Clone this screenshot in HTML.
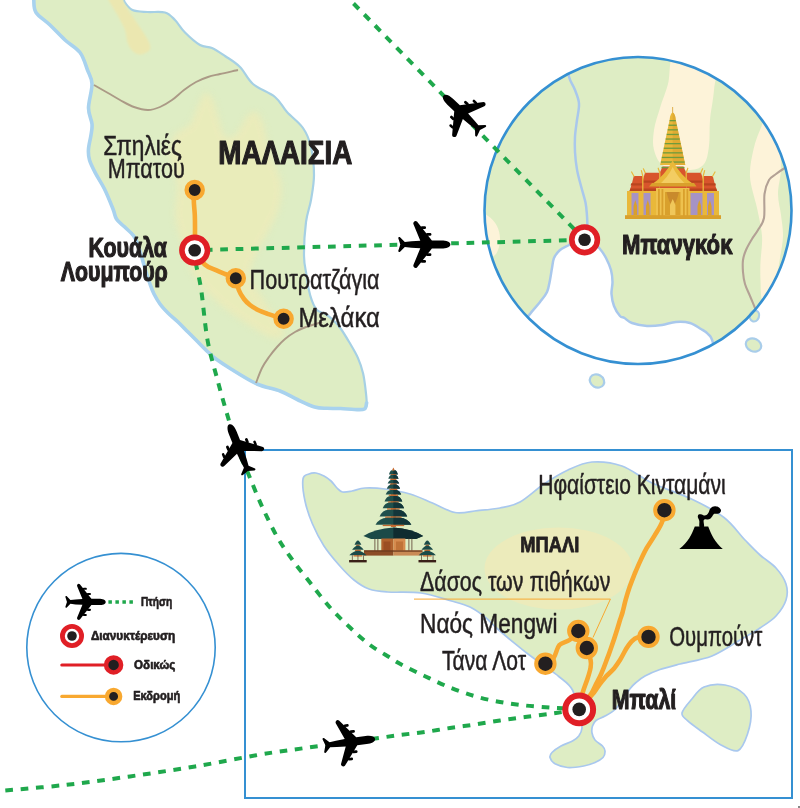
<!DOCTYPE html>
<html><head><meta charset="utf-8"><title>Map</title>
<style>
html,body{margin:0;padding:0;background:#fff;}
body{width:800px;height:808px;overflow:hidden;}
svg{display:block;}
text{font-family:"Liberation Sans",sans-serif;fill:#231f20;}
.b{font-weight:bold;}
</style></head><body>
<svg width="800" height="808" viewBox="0 0 800 808">
<defs>
<g id="plane">
<path d="M26,0 C26,-2.8 22,-4.1 17,-4.1 L7.5,-4.1 L-7.4,-22.9 Q-9.2,-24.2 -10.6,-22.4 Q-11.4,-21.3 -10.9,-20.2 L-4.1,-3.8 L-13,-3.2 L-19.6,-2.5 L-24.6,-7.5 Q-26.3,-7.9 -26.1,-6.2 L-24.1,0 L-26.1,6.2 Q-26.3,7.9 -24.6,7.5 L-19.6,2.5 L-13,3.2 L-4.1,3.8 L-10.9,20.2 Q-11.4,21.3 -10.6,22.4 Q-9.2,24.2 -7.4,22.9 L7.5,4.1 L17,4.1 C22,4.1 26,2.8 26,0Z"/>
<rect x="1.6" y="-11.6" width="5.4" height="2.8" rx="1.3"/>
<rect x="-3.6" y="-18.2" width="5.2" height="2.6" rx="1.2"/>
<rect x="1.6" y="8.8" width="5.4" height="2.8" rx="1.3"/>
<rect x="-3.6" y="15.6" width="5.2" height="2.6" rx="1.2"/>
</g>
<g id="night"><circle r="12.8" fill="#fff" stroke="#e01f26" stroke-width="5.6"/><circle r="6.3" fill="#231f20"/></g>
<g id="stop"><circle r="8.1" fill="#231f20" stroke="#f8a830" stroke-width="4.3"/></g>
<g id="stopb"><circle r="9.2" fill="#231f20" stroke="#f8a830" stroke-width="4"/></g>
<clipPath id="bkk"><circle cx="638" cy="210.5" r="153.5"/></clipPath>
<clipPath id="mal"><path d="M33.8,-6.0 C48.5,-7.0 107.5,-7.2 122.5,-6.0 C137.5,-4.8 122.3,-1.7 124.0,1.0 C125.7,3.7 128.6,8.2 132.5,10.0 C136.4,11.8 142.1,11.6 147.5,12.0 C152.9,12.4 160.4,11.2 165.0,12.5 C169.6,13.8 171.7,16.7 175.0,20.0 C178.3,23.3 180.8,28.3 185.0,32.5 C189.2,36.7 195.5,42.4 200.0,45.0 C204.5,47.6 207.8,46.2 212.0,48.0 C216.2,49.8 220.3,52.8 225.0,56.0 C229.7,59.2 235.3,62.3 240.0,67.0 C244.7,71.7 247.2,79.0 253.0,84.0 C258.8,89.0 269.3,92.3 275.0,97.0 C280.7,101.7 282.3,106.8 287.0,112.0 C291.7,117.2 299.0,122.2 303.0,128.0 C307.0,133.8 309.2,139.2 311.0,147.0 C312.8,154.8 314.0,166.2 314.0,175.0 C314.0,183.8 312.3,192.2 311.0,200.0 C309.7,207.8 307.2,212.7 306.0,222.0 C304.8,231.3 303.9,247.2 304.0,256.0 C304.1,264.8 305.7,269.6 306.5,275.0 C307.3,280.4 307.7,284.4 308.6,288.7 C309.5,293.0 310.6,297.2 312.0,300.8 C313.4,304.4 315.0,308.1 317.2,310.3 C319.4,312.5 322.4,312.2 325.0,313.8 C327.6,315.4 330.4,317.6 333.0,320.0 C335.6,322.4 337.9,324.8 340.6,328.5 C343.3,332.2 346.4,337.4 349.3,342.3 C352.2,347.2 355.6,352.7 357.9,357.9 C360.2,363.1 361.8,368.0 363.1,373.5 C364.4,379.0 365.1,385.9 365.7,390.8 C366.3,395.7 366.8,400.0 366.6,403.0 C366.4,406.0 366.5,407.9 364.5,409.0 C362.5,410.1 358.5,409.6 354.5,409.5 C350.5,409.4 345.2,408.7 340.6,408.5 C336.0,408.3 331.3,408.6 327.0,408.3 C322.7,408.1 319.6,408.5 314.6,407.0 C309.7,405.5 303.1,402.2 297.3,399.5 C291.5,396.8 286.7,393.6 280.0,391.0 C273.3,388.4 265.2,387.7 257.0,384.0 C248.8,380.3 237.8,373.2 231.0,369.0 C224.2,364.8 219.8,361.8 216.0,359.0 C212.2,356.2 211.0,354.8 208.0,352.0 C205.0,349.2 201.3,345.3 198.0,342.0 C194.7,338.7 191.3,335.3 188.0,332.0 C184.7,328.7 181.3,325.2 178.0,322.0 C174.7,318.8 171.0,316.0 168.0,313.0 C165.0,310.0 162.3,307.2 160.0,304.0 C157.7,300.8 155.7,297.3 154.0,294.0 C152.3,290.7 151.3,287.7 150.0,284.0 C148.7,280.3 147.3,276.3 146.0,272.0 C144.7,267.7 143.3,262.5 142.0,258.0 C140.7,253.5 139.4,248.7 138.0,245.0 C136.6,241.3 135.8,238.7 133.5,235.7 C131.2,232.7 127.3,229.6 124.5,226.8 C121.7,224.0 118.4,222.0 116.5,219.0 C114.6,216.0 115.0,214.0 113.0,209.0 C111.0,204.0 107.4,194.9 104.5,189.0 C101.6,183.1 98.1,178.2 95.6,173.4 C93.1,168.6 90.7,164.1 89.5,160.0 C88.3,155.9 88.2,153.2 88.5,149.0 C88.8,144.8 90.4,139.2 91.0,135.0 C91.6,130.8 92.4,128.5 92.0,124.0 C91.6,119.5 88.5,114.7 88.5,108.0 C88.5,101.3 92.2,90.3 92.0,84.0 C91.8,77.7 89.5,75.2 87.5,70.0 C85.5,64.8 83.8,57.5 80.0,52.5 C76.2,47.5 70.0,44.6 65.0,40.0 C60.0,35.4 54.8,29.6 50.0,25.0 C45.2,20.4 38.7,16.7 36.0,12.5 C33.3,8.3 34.1,3.1 33.8,0.0 C33.4,-3.1 19.0,-5.0 33.8,-6.0Z"/></clipPath>
<clipPath id="balic"><path d="M303.0,479.0 C303.7,474.5 306.8,475.0 309.0,474.0 C311.2,473.0 313.5,472.7 316.0,473.0 C318.5,473.3 321.5,474.7 324.0,476.0 C326.5,477.3 328.8,479.0 331.0,481.0 C333.2,483.0 335.1,486.2 337.0,488.0 C338.9,489.8 340.0,491.5 342.5,492.0 C345.0,492.5 348.2,491.7 352.0,491.0 C355.8,490.3 359.5,488.3 365.0,488.0 C370.5,487.7 377.5,488.0 385.0,489.0 C392.5,490.0 402.1,491.7 410.0,494.0 C417.9,496.3 425.0,499.9 432.5,503.0 C440.0,506.1 447.5,511.2 455.0,512.5 C462.5,513.8 470.0,511.4 477.5,510.6 C485.0,509.9 492.9,509.4 500.0,508.0 C507.1,506.6 512.7,506.0 520.0,502.0 C527.3,498.0 536.0,489.3 544.0,484.0 C552.0,478.7 560.0,473.7 568.0,470.0 C576.0,466.3 583.0,462.7 592.0,462.0 C601.0,461.3 612.0,462.5 622.0,466.0 C632.0,469.5 640.2,477.4 652.0,483.0 C663.8,488.6 680.5,493.8 692.5,499.5 C704.5,505.2 715.2,510.8 724.0,517.5 C732.8,524.2 739.0,533.8 745.0,540.0 C751.0,546.2 754.8,550.3 760.0,555.0 C765.2,559.7 771.7,563.2 776.0,568.0 C780.3,572.8 784.3,578.7 786.0,584.0 C787.7,589.3 787.7,594.7 786.0,600.0 C784.3,605.3 780.3,611.3 776.0,616.0 C771.7,620.7 766.0,624.0 760.0,628.0 C754.0,632.0 748.0,635.3 740.0,640.0 C732.0,644.7 722.0,652.0 712.0,656.0 C702.0,660.0 688.7,661.8 680.0,664.0 C671.3,666.2 665.8,667.5 660.0,669.5 C654.2,671.5 649.0,673.8 645.0,676.0 C641.0,678.2 638.5,680.4 636.0,682.5 C633.5,684.6 632.3,685.8 630.0,688.8 C627.7,691.7 624.5,696.5 622.0,700.0 C619.5,703.5 617.8,706.8 615.0,709.5 C612.2,712.2 608.2,714.2 605.0,716.0 C601.8,717.8 598.1,718.8 596.0,720.5 C593.9,722.2 593.2,723.9 592.5,726.0 C591.8,728.1 591.6,730.7 592.0,733.0 C592.4,735.3 593.2,737.8 595.0,740.0 C596.8,742.2 600.8,744.2 602.5,746.0 C604.2,747.8 604.9,749.1 605.0,751.0 C605.1,752.9 604.7,755.6 603.0,757.5 C601.3,759.4 598.2,761.1 595.0,762.5 C591.8,763.9 588.3,765.2 583.8,766.0 C579.2,766.8 572.3,767.9 567.5,767.5 C562.7,767.1 557.9,765.4 555.0,763.8 C552.1,762.1 550.5,759.4 550.0,757.5 C549.5,755.6 550.2,754.4 552.0,752.5 C553.8,750.6 557.6,747.9 561.0,746.0 C564.4,744.1 569.5,742.7 572.5,741.0 C575.5,739.3 577.2,738.2 578.8,736.0 C580.3,733.8 581.8,731.3 582.0,728.0 C582.2,724.7 581.6,722.3 580.0,716.0 C578.4,709.7 576.0,696.6 572.5,690.0 C569.0,683.4 563.7,680.7 558.8,676.5 C553.9,672.3 548.1,668.8 543.0,665.0 C537.9,661.2 532.7,657.5 528.0,654.0 C523.3,650.5 520.2,648.0 515.0,643.7 C509.8,639.4 501.6,632.5 496.6,628.0 C491.6,623.5 489.4,620.5 485.0,617.0 C480.6,613.5 475.6,609.7 470.0,607.0 C464.4,604.3 459.7,603.3 451.5,601.0 C443.3,598.7 431.7,594.5 421.0,593.0 C410.3,591.5 396.2,592.7 387.5,592.0 C378.8,591.3 374.6,591.0 369.0,589.0 C363.4,587.0 359.0,584.0 354.0,580.0 C349.0,576.0 344.0,570.7 339.0,565.0 C334.0,559.3 328.4,552.8 324.0,546.0 C319.6,539.2 315.7,531.5 312.5,524.0 C309.3,516.5 306.6,508.5 305.0,501.0 C303.4,493.5 302.3,483.5 303.0,479.0Z"/></clipPath>
<filter id="bl1"><feGaussianBlur stdDeviation="1.2"/></filter>
<filter id="bl3"><feGaussianBlur stdDeviation="3"/></filter>
<filter id="bl5"><feGaussianBlur stdDeviation="5"/></filter>
</defs>
<rect width="800" height="808" fill="#fff"/>

<g id="malaysia">
<path d="M33.8,-6.0 C48.5,-7.0 107.5,-7.2 122.5,-6.0 C137.5,-4.8 122.3,-1.7 124.0,1.0 C125.7,3.7 128.6,8.2 132.5,10.0 C136.4,11.8 142.1,11.6 147.5,12.0 C152.9,12.4 160.4,11.2 165.0,12.5 C169.6,13.8 171.7,16.7 175.0,20.0 C178.3,23.3 180.8,28.3 185.0,32.5 C189.2,36.7 195.5,42.4 200.0,45.0 C204.5,47.6 207.8,46.2 212.0,48.0 C216.2,49.8 220.3,52.8 225.0,56.0 C229.7,59.2 235.3,62.3 240.0,67.0 C244.7,71.7 247.2,79.0 253.0,84.0 C258.8,89.0 269.3,92.3 275.0,97.0 C280.7,101.7 282.3,106.8 287.0,112.0 C291.7,117.2 299.0,122.2 303.0,128.0 C307.0,133.8 309.2,139.2 311.0,147.0 C312.8,154.8 314.0,166.2 314.0,175.0 C314.0,183.8 312.3,192.2 311.0,200.0 C309.7,207.8 307.2,212.7 306.0,222.0 C304.8,231.3 303.9,247.2 304.0,256.0 C304.1,264.8 305.7,269.6 306.5,275.0 C307.3,280.4 307.7,284.4 308.6,288.7 C309.5,293.0 310.6,297.2 312.0,300.8 C313.4,304.4 315.0,308.1 317.2,310.3 C319.4,312.5 322.4,312.2 325.0,313.8 C327.6,315.4 330.4,317.6 333.0,320.0 C335.6,322.4 337.9,324.8 340.6,328.5 C343.3,332.2 346.4,337.4 349.3,342.3 C352.2,347.2 355.6,352.7 357.9,357.9 C360.2,363.1 361.8,368.0 363.1,373.5 C364.4,379.0 365.1,385.9 365.7,390.8 C366.3,395.7 366.8,400.0 366.6,403.0 C366.4,406.0 366.5,407.9 364.5,409.0 C362.5,410.1 358.5,409.6 354.5,409.5 C350.5,409.4 345.2,408.7 340.6,408.5 C336.0,408.3 331.3,408.6 327.0,408.3 C322.7,408.1 319.6,408.5 314.6,407.0 C309.7,405.5 303.1,402.2 297.3,399.5 C291.5,396.8 286.7,393.6 280.0,391.0 C273.3,388.4 265.2,387.7 257.0,384.0 C248.8,380.3 237.8,373.2 231.0,369.0 C224.2,364.8 219.8,361.8 216.0,359.0 C212.2,356.2 211.0,354.8 208.0,352.0 C205.0,349.2 201.3,345.3 198.0,342.0 C194.7,338.7 191.3,335.3 188.0,332.0 C184.7,328.7 181.3,325.2 178.0,322.0 C174.7,318.8 171.0,316.0 168.0,313.0 C165.0,310.0 162.3,307.2 160.0,304.0 C157.7,300.8 155.7,297.3 154.0,294.0 C152.3,290.7 151.3,287.7 150.0,284.0 C148.7,280.3 147.3,276.3 146.0,272.0 C144.7,267.7 143.3,262.5 142.0,258.0 C140.7,253.5 139.4,248.7 138.0,245.0 C136.6,241.3 135.8,238.7 133.5,235.7 C131.2,232.7 127.3,229.6 124.5,226.8 C121.7,224.0 118.4,222.0 116.5,219.0 C114.6,216.0 115.0,214.0 113.0,209.0 C111.0,204.0 107.4,194.9 104.5,189.0 C101.6,183.1 98.1,178.2 95.6,173.4 C93.1,168.6 90.7,164.1 89.5,160.0 C88.3,155.9 88.2,153.2 88.5,149.0 C88.8,144.8 90.4,139.2 91.0,135.0 C91.6,130.8 92.4,128.5 92.0,124.0 C91.6,119.5 88.5,114.7 88.5,108.0 C88.5,101.3 92.2,90.3 92.0,84.0 C91.8,77.7 89.5,75.2 87.5,70.0 C85.5,64.8 83.8,57.5 80.0,52.5 C76.2,47.5 70.0,44.6 65.0,40.0 C60.0,35.4 54.8,29.6 50.0,25.0 C45.2,20.4 38.7,16.7 36.0,12.5 C33.3,8.3 34.1,3.1 33.8,0.0 C33.4,-3.1 19.0,-5.0 33.8,-6.0Z" fill="#deedc4" stroke="#a6d0e4" stroke-width="2.2" stroke-linejoin="round"/>
<path d="M366.6,403.0 C366.2,404.0 366.5,407.9 364.5,409.0 C362.5,410.1 358.5,409.6 354.5,409.5 C350.5,409.4 345.2,408.7 340.6,408.5 C336.0,408.3 331.3,408.6 327.0,408.3 C322.7,408.1 319.6,408.5 314.6,407.0 C309.7,405.5 303.1,402.2 297.3,399.5 C291.5,396.8 286.7,393.6 280.0,391.0 C273.3,388.4 265.2,387.7 257.0,384.0 C248.8,380.3 237.8,373.2 231.0,369.0 C224.2,364.8 219.8,361.8 216.0,359.0 C212.2,356.2 211.0,354.8 208.0,352.0 C205.0,349.2 201.3,345.3 198.0,342.0 C194.7,338.7 191.3,335.3 188.0,332.0 C184.7,328.7 181.3,325.2 178.0,322.0 C174.7,318.8 171.0,316.0 168.0,313.0 C165.0,310.0 162.3,307.2 160.0,304.0 C157.7,300.8 155.7,297.3 154.0,294.0 C152.3,290.7 151.3,287.7 150.0,284.0 C148.7,280.3 147.3,276.3 146.0,272.0 C144.7,267.7 143.3,262.5 142.0,258.0 C140.7,253.5 139.4,248.7 138.0,245.0 C136.6,241.3 135.8,238.7 133.5,235.7 C131.2,232.7 127.3,229.6 124.5,226.8 C121.7,224.0 118.4,222.0 116.5,219.0 C114.6,216.0 115.0,214.0 113.0,209.0 C111.0,204.0 107.4,194.9 104.5,189.0 C101.6,183.1 98.1,178.2 95.6,173.4 C93.1,168.6 90.7,164.1 89.5,160.0 C88.3,155.9 88.2,153.2 88.5,149.0 C88.8,144.8 90.4,139.2 91.0,135.0 C91.6,130.8 92.4,128.5 92.0,124.0 C91.6,119.5 88.5,114.7 88.5,108.0 C88.5,101.3 92.2,90.3 92.0,84.0 C91.8,77.7 89.5,75.2 87.5,70.0 C85.5,64.8 83.8,57.5 80.0,52.5 C76.2,47.5 70.0,44.6 65.0,40.0 C60.0,35.4 54.8,29.6 50.0,25.0 C45.2,20.4 38.7,16.7 36.0,12.5 C33.3,8.3 34.1,3.1 33.8,0.0 C33.4,-3.1 33.8,-5.0 33.8,-6.0" fill="none" stroke="#a8d2ee" stroke-width="3.6" stroke-linejoin="round" stroke-linecap="round"/>
<g clip-path="url(#mal)">
<path d="M107.5,-4.0 C108.1,-7.2 118.1,-5.5 121.0,-4.0 C123.9,-2.5 122.7,1.0 125.0,5.0 C127.3,9.0 131.7,15.0 135.0,20.0 C138.3,25.0 142.5,30.8 145.0,35.0 C147.5,39.2 149.4,42.3 150.0,45.0 C150.6,47.7 150.4,49.4 148.8,51.0 C147.1,52.6 142.7,54.5 140.0,54.5 C137.3,54.5 134.6,53.0 132.5,51.0 C130.4,49.0 128.8,46.0 127.5,42.5 C126.2,39.0 126.7,34.6 125.0,30.0 C123.3,25.4 120.4,20.7 117.5,15.0 C114.6,9.3 106.9,-0.8 107.5,-4.0Z" fill="#ebe7b0" filter="url(#bl1)"/>
<path d="M205.0,93.0 C207.7,91.7 210.8,96.2 213.0,100.0 C215.2,103.8 216.0,110.0 218.0,116.0 C220.0,122.0 222.0,133.0 225.0,136.0 C228.0,139.0 232.3,137.3 236.0,134.0 C239.7,130.7 243.7,119.7 247.0,116.0 C250.3,112.3 253.3,110.8 256.0,112.0 C258.7,113.2 260.7,116.3 263.0,123.0 C265.3,129.7 267.0,142.2 270.0,152.0 C273.0,161.8 279.5,172.7 281.0,182.0 C282.5,191.3 281.2,199.7 279.0,208.0 C276.8,216.3 271.5,225.0 268.0,232.0 C264.5,239.0 261.0,242.8 258.0,250.0 C255.0,257.2 249.3,267.2 250.0,275.0 C250.7,282.8 257.7,289.8 262.0,297.0 C266.3,304.2 272.3,311.8 276.0,318.0 C279.7,324.2 284.5,330.7 284.0,334.0 C283.5,337.3 279.7,340.0 273.0,338.0 C266.3,336.0 253.8,328.5 244.0,322.0 C234.2,315.5 222.7,307.3 214.0,299.0 C205.3,290.7 197.5,281.8 192.0,272.0 C186.5,262.2 183.8,249.3 181.0,240.0 C178.2,230.7 175.7,225.3 175.0,216.0 C174.3,206.7 177.8,193.7 177.0,184.0 C176.2,174.3 170.5,166.0 170.0,158.0 C169.5,150.0 170.7,141.7 174.0,136.0 C177.3,130.3 186.2,128.7 190.0,124.0 C193.8,119.3 194.5,113.2 197.0,108.0 C199.5,102.8 202.3,94.3 205.0,93.0Z" fill="#ecebb9" filter="url(#bl3)" opacity=".85"/>
</g>
<path d="M94.0,85.0 C96.3,86.3 103.7,90.5 108.0,93.0 C112.3,95.5 115.7,97.7 120.0,100.0 C124.3,102.3 129.3,105.3 134.0,107.0 C138.7,108.7 143.7,110.0 148.0,110.0 C152.3,110.0 156.0,108.7 160.0,107.0 C164.0,105.3 168.0,102.8 172.0,100.0 C176.0,97.2 180.0,93.0 184.0,90.0 C188.0,87.0 192.0,84.2 196.0,82.0 C200.0,79.8 204.0,78.3 208.0,77.0 C212.0,75.7 215.0,75.2 220.0,74.0 C225.0,72.8 235.0,70.7 238.0,70.0" fill="none" stroke="#ab9a86" stroke-width="1.9"/>
<path d="M256.0,383.0 C257.0,380.5 259.8,372.3 262.0,368.0 C264.2,363.7 266.5,360.5 269.0,357.0 C271.5,353.5 274.3,350.0 277.0,347.0 C279.7,344.0 282.0,341.5 285.0,339.0 C288.0,336.5 291.5,334.0 295.0,332.0 C298.5,330.0 301.5,328.7 306.0,327.0 C310.5,325.3 319.3,322.8 322.0,322.0" fill="none" stroke="#ab9a86" stroke-width="1.9"/>
</g>
<g id="bangkok">
<g clip-path="url(#bkk)">
<rect x="480" y="50" width="320" height="320" fill="#deedc4"/>
<path d="M676.0,50.0 C684.0,44.3 709.7,43.3 716.0,50.0 C722.3,56.7 715.0,78.3 714.0,90.0 C713.0,101.7 710.8,110.7 710.0,120.0 C709.2,129.3 710.0,138.7 709.0,146.0 C708.0,153.3 707.2,160.0 704.0,164.0 C700.8,168.0 696.7,169.7 690.0,170.0 C683.3,170.3 670.0,169.3 664.0,166.0 C658.0,162.7 655.7,156.0 654.0,150.0 C652.3,144.0 653.0,137.0 654.0,130.0 C655.0,123.0 657.7,115.7 660.0,108.0 C662.3,100.3 665.3,93.7 668.0,84.0 C670.7,74.3 668.0,55.7 676.0,50.0Z" fill="#fdf3d9"/>
<path d="M766.0,118.0 C768.2,116.7 770.7,116.7 773.0,122.0 C775.3,127.3 778.7,142.0 780.0,150.0 C781.3,158.0 781.3,162.7 781.0,170.0 C780.7,177.3 778.0,186.5 778.0,194.0 C778.0,201.5 780.2,208.0 781.0,215.0 C781.8,222.0 783.2,228.8 783.0,236.0 C782.8,243.2 781.2,250.7 780.0,258.0 C778.8,265.3 777.8,272.7 776.0,280.0 C774.2,287.3 771.3,298.7 769.0,302.0 C766.7,305.3 763.4,303.7 762.0,300.0 C760.6,296.3 760.8,286.3 760.5,280.0 C760.2,273.7 760.2,269.3 760.5,262.0 C760.8,254.7 762.6,245.0 762.0,236.0 C761.4,227.0 759.0,217.8 757.0,208.0 C755.0,198.2 750.6,186.8 750.0,177.0 C749.4,167.2 751.9,156.8 753.6,149.0 C755.3,141.2 757.9,135.2 760.0,130.0 C762.1,124.8 763.8,119.3 766.0,118.0Z" fill="#fdf3d9"/>
<path d="M478.0,214.0 C479.7,207.3 484.8,214.0 488.0,216.0 C491.2,218.0 495.0,222.0 497.0,226.0 C499.0,230.0 500.2,235.3 500.0,240.0 C499.8,244.7 498.3,251.0 496.0,254.0 C493.7,257.0 489.0,257.7 486.0,258.0 C483.0,258.3 479.3,263.3 478.0,256.0 C476.7,248.7 476.3,220.7 478.0,214.0Z" fill="#fdf3d9"/>
<path d="M578.0,240.0 C574.2,240.5 572.0,243.3 569.0,245.0 C566.0,246.7 562.5,247.8 560.0,250.0 C557.5,252.2 555.3,255.0 554.0,258.0 C552.7,261.0 552.7,264.3 552.0,268.0 C551.3,271.7 550.8,276.0 550.0,280.0 C549.2,284.0 548.7,288.3 547.0,292.0 C545.3,295.7 542.8,298.3 540.0,302.0 C537.2,305.7 533.3,309.3 530.0,314.0 C526.7,318.7 521.7,319.0 520.0,330.0 C518.3,341.0 486.7,371.7 520.0,380.0 C553.3,388.3 687.8,386.2 720.0,380.0 C752.2,373.8 715.0,350.7 713.0,343.0 C711.0,335.3 710.0,336.3 708.0,334.0 C706.0,331.7 704.0,330.8 701.0,329.0 C698.0,327.2 694.2,324.2 690.0,323.0 C685.8,321.8 680.7,321.7 676.0,322.0 C671.3,322.3 666.8,324.3 662.0,325.0 C657.2,325.7 652.0,326.3 647.0,326.0 C642.0,325.7 635.8,324.3 632.0,323.0 C628.2,321.7 626.5,319.2 624.5,318.0 C622.5,316.8 621.8,318.0 620.0,316.0 C618.2,314.0 615.4,309.7 614.0,306.0 C612.6,302.3 611.8,298.0 611.5,294.0 C611.2,290.0 612.6,286.0 612.5,282.0 C612.4,278.0 612.1,274.0 611.0,270.0 C609.9,266.0 607.8,261.5 606.0,258.0 C604.2,254.5 602.3,251.7 600.0,249.0 C597.7,246.3 595.7,243.5 592.0,242.0 C588.3,240.5 581.8,239.5 578.0,240.0Z" fill="#fff" stroke="#a9c8ec" stroke-width="2.5"/>
<path d="M568.0,60.0 C568.2,62.8 567.8,71.8 569.0,76.8 C570.2,81.8 573.3,85.5 575.0,90.0 C576.7,94.5 578.7,98.6 579.0,103.6 C579.3,108.6 577.7,114.5 577.0,120.0 C576.3,125.5 575.3,131.3 575.0,136.6 C574.7,141.9 574.7,146.5 575.0,152.0 C575.3,157.5 576.0,163.9 577.0,169.6 C578.0,175.3 579.6,180.5 581.0,186.0 C582.4,191.5 584.5,197.6 585.5,202.6 C586.5,207.6 586.6,211.1 587.0,216.0 C587.4,220.9 587.5,229.3 587.6,232.0" fill="none" stroke="#a9c8ec" stroke-width="2.5"/>
<path d="M796.0,162.0 C794.1,163.0 788.1,166.0 784.8,168.0 C781.5,170.0 778.6,172.0 776.0,174.0 C773.4,176.0 770.9,176.7 769.0,180.0 C767.1,183.3 765.3,187.7 764.5,194.0 C763.7,200.3 765.1,212.0 764.0,218.0 C762.9,224.0 760.0,226.5 758.0,230.0 C756.0,233.5 754.0,235.7 752.0,239.0 C750.0,242.3 747.5,246.5 746.0,250.0 C744.5,253.5 743.5,256.3 743.0,260.0 C742.5,263.7 742.7,268.0 743.0,272.0 C743.3,276.0 743.8,280.0 745.0,284.0 C746.2,288.0 748.3,292.0 750.0,296.0 C751.7,300.0 753.0,303.3 755.0,308.0 C757.0,312.7 760.8,321.3 762.0,324.0" fill="none" stroke="#b3a195" stroke-width="2.1"/>
</g>
<ellipse cx="754.5" cy="316" rx="4.5" ry="5.5" transform="rotate(20 754.5 316)" fill="#deedc4" stroke="#a9cdea" stroke-width="2.2"/>
<circle cx="638" cy="210.5" r="153.5" fill="none" stroke="#3590d2" stroke-width="2.6"/>
<ellipse cx="753.5" cy="345" rx="8" ry="6.3" transform="rotate(25 753.5 345)" fill="#deedc4" stroke="#a9cdea" stroke-width="2.2"/>
<ellipse cx="597" cy="381" rx="7.5" ry="6.3" transform="rotate(30 597 381)" fill="#deedc4" stroke="#a9cdea" stroke-width="2.2"/>
</g>
<g id="balibox">
<rect x="245" y="450" width="547" height="348" fill="#fff" stroke="#3590d2" stroke-width="2"/>
<path d="M303.0,479.0 C303.7,474.5 306.8,475.0 309.0,474.0 C311.2,473.0 313.5,472.7 316.0,473.0 C318.5,473.3 321.5,474.7 324.0,476.0 C326.5,477.3 328.8,479.0 331.0,481.0 C333.2,483.0 335.1,486.2 337.0,488.0 C338.9,489.8 340.0,491.5 342.5,492.0 C345.0,492.5 348.2,491.7 352.0,491.0 C355.8,490.3 359.5,488.3 365.0,488.0 C370.5,487.7 377.5,488.0 385.0,489.0 C392.5,490.0 402.1,491.7 410.0,494.0 C417.9,496.3 425.0,499.9 432.5,503.0 C440.0,506.1 447.5,511.2 455.0,512.5 C462.5,513.8 470.0,511.4 477.5,510.6 C485.0,509.9 492.9,509.4 500.0,508.0 C507.1,506.6 512.7,506.0 520.0,502.0 C527.3,498.0 536.0,489.3 544.0,484.0 C552.0,478.7 560.0,473.7 568.0,470.0 C576.0,466.3 583.0,462.7 592.0,462.0 C601.0,461.3 612.0,462.5 622.0,466.0 C632.0,469.5 640.2,477.4 652.0,483.0 C663.8,488.6 680.5,493.8 692.5,499.5 C704.5,505.2 715.2,510.8 724.0,517.5 C732.8,524.2 739.0,533.8 745.0,540.0 C751.0,546.2 754.8,550.3 760.0,555.0 C765.2,559.7 771.7,563.2 776.0,568.0 C780.3,572.8 784.3,578.7 786.0,584.0 C787.7,589.3 787.7,594.7 786.0,600.0 C784.3,605.3 780.3,611.3 776.0,616.0 C771.7,620.7 766.0,624.0 760.0,628.0 C754.0,632.0 748.0,635.3 740.0,640.0 C732.0,644.7 722.0,652.0 712.0,656.0 C702.0,660.0 688.7,661.8 680.0,664.0 C671.3,666.2 665.8,667.5 660.0,669.5 C654.2,671.5 649.0,673.8 645.0,676.0 C641.0,678.2 638.5,680.4 636.0,682.5 C633.5,684.6 632.3,685.8 630.0,688.8 C627.7,691.7 624.5,696.5 622.0,700.0 C619.5,703.5 617.8,706.8 615.0,709.5 C612.2,712.2 608.2,714.2 605.0,716.0 C601.8,717.8 598.1,718.8 596.0,720.5 C593.9,722.2 593.2,723.9 592.5,726.0 C591.8,728.1 591.6,730.7 592.0,733.0 C592.4,735.3 593.2,737.8 595.0,740.0 C596.8,742.2 600.8,744.2 602.5,746.0 C604.2,747.8 604.9,749.1 605.0,751.0 C605.1,752.9 604.7,755.6 603.0,757.5 C601.3,759.4 598.2,761.1 595.0,762.5 C591.8,763.9 588.3,765.2 583.8,766.0 C579.2,766.8 572.3,767.9 567.5,767.5 C562.7,767.1 557.9,765.4 555.0,763.8 C552.1,762.1 550.5,759.4 550.0,757.5 C549.5,755.6 550.2,754.4 552.0,752.5 C553.8,750.6 557.6,747.9 561.0,746.0 C564.4,744.1 569.5,742.7 572.5,741.0 C575.5,739.3 577.2,738.2 578.8,736.0 C580.3,733.8 581.8,731.3 582.0,728.0 C582.2,724.7 581.6,722.3 580.0,716.0 C578.4,709.7 576.0,696.6 572.5,690.0 C569.0,683.4 563.7,680.7 558.8,676.5 C553.9,672.3 548.1,668.8 543.0,665.0 C537.9,661.2 532.7,657.5 528.0,654.0 C523.3,650.5 520.2,648.0 515.0,643.7 C509.8,639.4 501.6,632.5 496.6,628.0 C491.6,623.5 489.4,620.5 485.0,617.0 C480.6,613.5 475.6,609.7 470.0,607.0 C464.4,604.3 459.7,603.3 451.5,601.0 C443.3,598.7 431.7,594.5 421.0,593.0 C410.3,591.5 396.2,592.7 387.5,592.0 C378.8,591.3 374.6,591.0 369.0,589.0 C363.4,587.0 359.0,584.0 354.0,580.0 C349.0,576.0 344.0,570.7 339.0,565.0 C334.0,559.3 328.4,552.8 324.0,546.0 C319.6,539.2 315.7,531.5 312.5,524.0 C309.3,516.5 306.6,508.5 305.0,501.0 C303.4,493.5 302.3,483.5 303.0,479.0Z" fill="#deedc4" stroke="#a9c8ee" stroke-width="1.7" stroke-linejoin="round"/>
<path d="M682.0,713.0 C682.6,709.6 687.3,704.3 691.0,700.0 C694.7,695.7 698.3,689.5 704.0,687.0 C709.7,684.5 718.3,683.8 725.0,685.0 C731.7,686.2 739.7,689.7 744.0,694.0 C748.3,698.3 750.4,704.3 751.0,711.0 C751.6,717.7 749.7,727.4 747.5,734.0 C745.3,740.6 742.4,748.8 738.0,750.6 C733.6,752.4 726.9,748.1 721.0,745.0 C715.1,741.9 708.1,736.1 702.5,732.0 C696.9,727.9 690.9,723.8 687.5,720.6 C684.1,717.4 681.4,716.4 682.0,713.0Z" fill="#deedc4" stroke="#a9c8ee" stroke-width="1.7"/>
<ellipse cx="558.5" cy="568.5" rx="74" ry="41" fill="#ecebbb"/>
</g>
<g id="flights" fill="none" stroke="#1fa84c" stroke-width="4" stroke-dasharray="7.7 7.7">
<path d="M353.5,3.5 L584.6,239.8"/>
<path d="M194.7,250.2 L584.6,239.8" stroke-dashoffset="5.26"/>
<path d="M194.7,250.2 C195.0,252.7 195.2,258.4 196.2,265.0 C197.3,271.6 199.4,277.5 201.2,290.0 C203.1,302.5 204.8,325.0 207.5,340.0 C210.2,355.0 214.0,366.7 217.5,380.0 C221.0,393.3 225.5,408.8 228.8,420.0 C232.0,431.2 233.7,437.8 237.0,447.0 C240.3,456.2 244.5,464.9 248.8,475.0 C253.0,485.1 257.7,497.1 262.5,507.5 C267.3,517.9 272.5,528.8 277.5,537.5 C282.5,546.2 287.1,552.5 292.5,560.0 C297.9,567.5 303.8,574.6 310.0,582.5 C316.2,590.4 323.3,600.0 330.0,607.5 C336.7,615.0 343.3,621.2 350.0,627.5 C356.7,633.8 363.3,640.0 370.0,645.0 C376.7,650.0 385.0,654.4 390.0,657.5 C395.0,660.6 394.2,660.6 400.0,663.8 C405.8,666.9 416.7,672.3 425.0,676.2 C433.3,680.2 441.7,684.2 450.0,687.5 C458.3,690.8 466.7,693.8 475.0,696.2 C483.3,698.7 491.7,700.5 500.0,702.0 C508.3,703.5 516.7,704.6 525.0,705.5 C533.3,706.4 543.8,707.0 550.0,707.5 C556.2,708.0 557.6,708.0 562.5,708.2 C567.4,708.5 576.8,708.9 579.6,709.0" stroke-dashoffset="3.1"/>
<path d="M-10.0,792.0 C-8.3,791.8 -12.5,792.2 0.0,791.0 C12.5,789.8 43.3,787.4 65.0,785.0 C86.7,782.6 108.3,779.5 130.0,776.4 C151.7,773.3 173.3,770.1 195.0,766.5 C216.7,762.9 241.7,757.7 260.0,754.6 C278.3,751.5 290.2,750.1 305.0,748.0 C319.8,745.9 337.3,743.6 349.0,742.0 C360.7,740.4 366.5,739.7 375.0,738.5 C383.5,737.3 391.7,736.1 400.0,735.0 C408.3,733.9 416.7,733.2 425.0,732.0 C433.3,730.8 441.7,729.2 450.0,728.0 C458.3,726.8 466.7,725.8 475.0,724.5 C483.3,723.2 491.7,721.8 500.0,720.5 C508.3,719.2 516.7,718.1 525.0,717.0 C533.3,715.9 543.8,714.6 550.0,713.8 C556.2,712.9 557.6,712.7 562.5,712.0 C567.4,711.3 576.8,710.2 579.6,709.8"/>
</g>
<g id="routes" fill="none" stroke="#f8a830" stroke-width="4.6" stroke-linecap="round">
<path d="M194.7,190.0 C194.5,191.7 193.8,195.8 193.8,200.0 C193.8,204.2 194.6,210.3 194.8,215.0 C195.0,219.7 195.0,222.2 195.0,228.0 C195.0,233.8 194.8,246.3 194.7,250.0"/>
<path d="M194.7,250.2 C196.4,252.6 201.2,261.2 204.8,264.5 C208.3,267.8 212.6,268.6 216.0,270.2 C219.4,271.8 221.7,272.7 225.0,274.0 C228.3,275.3 233.5,275.5 235.8,278.2 C238.1,280.9 237.4,286.5 238.8,290.0 C240.1,293.5 242.1,296.5 244.0,299.0 C245.9,301.5 247.7,303.2 250.0,305.0 C252.3,306.8 255.1,308.5 258.0,310.0 C260.9,311.5 263.2,312.3 267.5,313.8 C271.8,315.2 280.9,317.9 283.6,318.7"/>
<path d="M545.4,663.8 C546.8,662.8 551.4,660.6 553.8,657.5 C556.1,654.4 556.8,647.9 559.4,645.0 C562.0,642.1 566.4,642.3 569.5,640.0 C572.6,637.7 576.8,632.5 578.3,631.0"/>
<path d="M578.3,631.0 C579.7,633.9 584.5,643.3 586.6,648.1 C588.7,652.9 589.9,656.8 590.6,660.0 C591.3,663.2 591.1,664.4 590.6,667.5 C590.1,670.6 588.8,674.8 587.5,678.8 C586.2,682.7 584.4,687.2 583.1,691.2 C581.9,695.3 580.5,701.0 580.0,703.0"/>
<path d="M580.5,705.0 C581.4,704.2 584.2,701.9 586.0,700.0 C587.8,698.1 589.5,696.5 591.2,693.8 C593.0,691.0 594.6,687.1 596.2,683.8 C597.9,680.4 599.6,677.5 601.2,673.8 C602.9,670.0 604.6,665.6 606.2,661.2 C607.9,656.9 609.6,652.3 611.2,647.5 C612.9,642.7 614.8,637.1 616.2,632.5 C617.7,627.9 619.0,623.3 620.0,620.0 C621.0,616.7 621.5,615.9 622.5,612.5 C623.5,609.1 624.5,604.0 625.7,599.7 C626.9,595.4 628.2,591.1 629.7,586.8 C631.2,582.5 632.9,578.3 634.6,574.0 C636.4,569.7 638.2,565.4 640.2,561.1 C642.2,556.8 644.2,552.5 646.6,548.2 C649.0,543.9 652.2,539.7 654.7,535.4 C657.2,531.1 660.3,526.7 661.9,522.5 C663.5,518.3 663.9,512.1 664.3,510.0"/>
<path d="M582.0,705.0 C582.8,704.2 585.4,701.7 587.0,700.0 C588.6,698.3 590.6,696.5 591.9,695.0 C593.2,693.5 593.6,693.1 595.0,691.2 C596.4,689.4 598.1,686.2 600.0,683.8 C601.9,681.2 604.0,678.8 606.2,676.2 C608.5,673.8 611.5,671.5 613.8,668.8 C616.0,666.0 617.9,663.3 620.0,660.0 C622.1,656.7 624.4,651.8 626.2,648.8 C628.1,645.7 629.4,643.8 631.2,641.9 C633.1,640.0 634.6,638.3 637.5,637.5 C640.4,636.7 646.7,637.0 648.5,636.9"/>
</g>
<path d="M414,599.1 L610.4,599.1 L593,637.5" fill="none" stroke="#f8a830" stroke-width="1"/>
<g id="markers">
<use href="#stop" x="194.7" y="190"/>
<use href="#stop" x="235.8" y="278.2"/>
<use href="#stop" x="283.6" y="318.7"/>
<use href="#stopb" x="664.4" y="510.2"/>
<use href="#stopb" x="578.3" y="631"/>
<use href="#stopb" x="586.8" y="648"/>
<use href="#stopb" x="545.4" y="663.7"/>
<use href="#stopb" x="648.5" y="636.9"/>
<use href="#night" x="194.7" y="250.2"/>
<use href="#night" x="584.6" y="239.8"/>
<circle cx="579.2" cy="709.4" r="13.9" fill="#fff" stroke="#e01f26" stroke-width="6"/><circle cx="579.2" cy="709.4" r="6.8" fill="#231f20"/>
</g>
<g id="planes" fill="#000">
<use href="#plane" transform="translate(462.5,113.5) rotate(-136.5)"/>
<use href="#plane" transform="translate(424.4,244.5)"/>
<use href="#plane" transform="translate(239,448.5) rotate(-111.7)"/>
<use href="#plane" transform="translate(349.3,742.2) rotate(-7.4)"/>
</g>
<g id="volcano" fill="#000">
<path d="M679.3,548.9 C688,543 692,534 694.8,526.6 L708.2,526.6 C711,534 715,543 722.8,548.9Z"/>
<path d="M699.6,527.0 C698.8,526.0 699.6,522.7 699.3,521.0 C699.0,519.3 697.9,518.1 697.8,517.0 C697.7,515.9 698.1,515.1 698.6,514.6 C699.1,514.1 700.1,514.1 701.0,514.2 C701.9,514.3 703.1,515.3 704.0,515.4 C704.9,515.5 705.7,515.5 706.5,515.0 C707.3,514.5 708.0,513.6 708.6,512.6 C709.2,511.6 709.4,510.0 710.0,509.0 C710.6,508.0 711.6,507.3 712.5,506.8 C713.4,506.3 714.4,506.1 715.5,506.2 C716.6,506.3 718.1,506.7 719.0,507.4 C719.9,508.1 720.8,509.3 721.0,510.2 C721.2,511.1 720.6,512.2 720.0,512.8 C719.4,513.4 718.5,513.6 717.5,513.8 C716.5,514.0 715.0,513.4 714.2,513.8 C713.4,514.2 713.1,515.2 712.5,516.0 C711.9,516.8 711.3,517.8 710.5,518.4 C709.7,519.0 708.5,519.2 707.5,519.4 C706.5,519.6 705.1,519.1 704.5,519.4 C703.9,519.7 703.7,519.7 703.6,521.0 C703.5,522.3 704.6,526.0 703.9,527.0 C703.2,528.0 700.4,528.0 699.6,527.0Z"/>
</g>
<g id="pagoda">
<rect x="390.9" y="471" width="5" height="56" fill="#c46a30"/>
<path d="M389.0,474.4 Q389.9,470.6 391.9,470.3 L394.9,470.3 Q396.9,470.6 397.8,474.4 Z" fill="#1f504c"/>
<path d="M393.4,474.4 Q393.4,470.6 393.4,470.3 L394.9,470.3 Q396.9,470.6 397.8,474.4 Z" fill="#12363a"/>
<rect x="390.8" y="474.4" width="5.3" height="1.3" fill="#c46a30"/>
<path d="M388.3,478.8 Q389.3,475.4 391.6,475.1 L395.2,475.1 Q397.5,475.4 398.5,478.8 Z" fill="#1f504c"/>
<path d="M393.4,478.8 Q393.4,475.4 393.4,475.1 L395.2,475.1 Q397.5,475.4 398.5,478.8 Z" fill="#12363a"/>
<rect x="390.3" y="478.8" width="6.1" height="1.3" fill="#c46a30"/>
<path d="M387.6,483.6 Q388.8,480.2 391.4,479.9 L395.4,479.9 Q398.0,480.2 399.2,483.6 Z" fill="#1f504c"/>
<path d="M393.4,483.6 Q393.4,480.2 393.4,479.9 L395.4,479.9 Q398.0,480.2 399.2,483.6 Z" fill="#12363a"/>
<rect x="389.9" y="483.6" width="7.0" height="1.3" fill="#c46a30"/>
<path d="M386.8,488.8 Q388.1,484.8 391.1,484.5 L395.7,484.5 Q398.7,484.8 400.0,488.8 Z" fill="#1f504c"/>
<path d="M393.4,488.8 Q393.4,484.8 393.4,484.5 L395.7,484.5 Q398.7,484.8 400.0,488.8 Z" fill="#12363a"/>
<rect x="389.4" y="488.8" width="7.9" height="1.3" fill="#c46a30"/>
<path d="M385.7,494.6 Q387.2,490.3 390.7,490.0 L396.1,490.0 Q399.6,490.3 401.1,494.6 Z" fill="#1f504c"/>
<path d="M393.4,494.6 Q393.4,490.3 393.4,490.0 L396.1,490.0 Q399.6,490.3 401.1,494.6 Z" fill="#12363a"/>
<rect x="388.8" y="494.6" width="9.2" height="1.3" fill="#c46a30"/>
<path d="M384.5,501.4 Q386.3,496.3 390.3,496.0 L396.5,496.0 Q400.5,496.3 402.3,501.4 Z" fill="#1f504c"/>
<path d="M393.4,501.4 Q393.4,496.3 393.4,496.0 L396.5,496.0 Q400.5,496.3 402.3,501.4 Z" fill="#12363a"/>
<rect x="388.1" y="501.4" width="10.7" height="1.3" fill="#c46a30"/>
<path d="M382.7,508.3 Q384.8,502.9 389.7,502.6 L397.1,502.6 Q402.0,502.9 404.1,508.3 Z" fill="#1f504c"/>
<path d="M393.4,508.3 Q393.4,502.9 393.4,502.6 L397.1,502.6 Q402.0,502.9 404.1,508.3 Z" fill="#12363a"/>
<rect x="387.0" y="508.3" width="12.8" height="1.3" fill="#c46a30"/>
<path d="M379.6,516.5 Q382.4,510.1 388.6,509.8 L398.2,509.8 Q404.4,510.1 407.2,516.5 Z" fill="#1f504c"/>
<path d="M393.4,516.5 Q393.4,510.1 393.4,509.8 L398.2,509.8 Q404.4,510.1 407.2,516.5 Z" fill="#12363a"/>
<rect x="385.1" y="516.5" width="16.6" height="1.3" fill="#c46a30"/>
<path d="M375.5,524.8 Q379.1,518.1 387.1,517.8 L399.7,517.8 Q407.7,518.1 411.3,524.8 Z" fill="#1f504c"/>
<path d="M393.4,524.8 Q393.4,518.1 393.4,517.8 L399.7,517.8 Q407.7,518.1 411.3,524.8 Z" fill="#12363a"/>
<rect x="382.7" y="524.8" width="21.5" height="1.3" fill="#c46a30"/>
<path d="M391.9,470.6 L393.4,467.6 L394.9,470.6Z" fill="#c46a30"/>
<path d="M363.4,536 Q375,528.5 393.4,527.4 Q412,528.5 423.2,536 L416,539 L371,539Z" fill="#1b4a48"/>
<path d="M393.4,527.4 Q412,528.5 423.2,536 L416,539 L393.4,539Z" fill="#0f2c30"/>
<rect x="381.3" y="538.5" width="12.1" height="12.5" fill="#b0632e"/>
<rect x="393.4" y="538.5" width="12" height="12.5" fill="#d68b4e"/>
<rect x="383.5" y="541.5" width="7" height="9.5" fill="#9b4f23"/>
<rect x="396" y="541.5" width="7" height="9.5" fill="#c07338"/>
<rect x="374.5" y="538.5" width="0.8" height="12.5" fill="#5a4030"/><rect x="377.5" y="538.5" width="0.8" height="12.5" fill="#5a4030"/><rect x="408.5" y="538.5" width="0.8" height="12.5" fill="#5a4030"/><rect x="411.5" y="538.5" width="0.8" height="12.5" fill="#5a4030"/>
<rect x="364" y="550.4" width="29.4" height="5.2" fill="#8c4d27"/><rect x="393.4" y="550.4" width="29.1" height="5.2" fill="#c98a55"/>
<rect x="364" y="550.4" width="58.5" height="1.3" fill="#6e3c20"/>
<path d="M354.5,544.8 Q356.2,540.6 357.9,540.4 Q359.6,540.6 361.3,544.8 Z" fill="#1b4a48"/>
<rect x="356.2" y="544.8" width="3.4" height="1.3" fill="#c46a30"/>
<path d="M352.1,549.8 Q355.0,545.6 357.9,545.4 Q360.8,545.6 363.7,549.8 Z" fill="#1b4a48"/>
<rect x="355.0" y="549.8" width="5.8" height="1.3" fill="#c46a30"/>
<path d="M349.3,555.2 Q353.6,551.0 357.9,550.8 Q362.2,551.0 366.5,555.2 Z" fill="#1b4a48"/>
<rect x="353.6" y="555.2" width="8.6" height="1.3" fill="#c46a30"/>
<rect x="351.9" y="555.2" width="0.7" height="5" fill="#5a4030"/><rect x="357.6" y="555.2" width="0.7" height="5" fill="#5a4030"/><rect x="363.3" y="555.2" width="0.7" height="5" fill="#5a4030"/>
<rect x="349.1" y="560" width="17.6" height="2.4" fill="#3a2018"/>
<path d="M423.9,544.8 Q425.6,540.6 427.3,540.4 Q429.0,540.6 430.7,544.8 Z" fill="#1b4a48"/>
<rect x="425.6" y="544.8" width="3.4" height="1.3" fill="#c46a30"/>
<path d="M421.5,549.8 Q424.4,545.6 427.3,545.4 Q430.2,545.6 433.1,549.8 Z" fill="#1b4a48"/>
<rect x="424.4" y="549.8" width="5.8" height="1.3" fill="#c46a30"/>
<path d="M418.7,555.2 Q423.0,551.0 427.3,550.8 Q431.6,551.0 435.9,555.2 Z" fill="#1b4a48"/>
<rect x="423.0" y="555.2" width="8.6" height="1.3" fill="#c46a30"/>
<rect x="421.3" y="555.2" width="0.7" height="5" fill="#5a4030"/><rect x="427.0" y="555.2" width="0.7" height="5" fill="#5a4030"/><rect x="432.7" y="555.2" width="0.7" height="5" fill="#5a4030"/>
<rect x="418.5" y="560" width="17.6" height="2.4" fill="#3a2018"/>
</g>
<g id="wat">
<rect x="672.3" y="107" width="0.8" height="6" fill="#d9a02c"/>
<path d="M672.7,112.5 Q670.1,113.5 669.6,120 L660.1,165 L685.3,165 L675.8,120 Q675.3,113.5 672.7,112.5Z" fill="#e9b83a"/>
<path d="M672.7,112.5 L672.7,165 L685.3,165 L675.8,120 Q675.3,113.5 672.7,112.5Z" fill="#d9a02c" opacity=".55"/>
<rect x="669.6" y="120.0" width="6.2" height="1.3" fill="#6f9b3c"/>
<rect x="668.6" y="124.6" width="8.1" height="1.3" fill="#6f9b3c"/>
<rect x="667.7" y="129.2" width="10.1" height="1.3" fill="#6f9b3c"/>
<rect x="666.7" y="133.8" width="12.0" height="1.3" fill="#6f9b3c"/>
<rect x="665.7" y="138.4" width="14.0" height="1.3" fill="#6f9b3c"/>
<rect x="664.7" y="143.0" width="15.9" height="1.3" fill="#6f9b3c"/>
<rect x="663.8" y="147.6" width="17.9" height="1.3" fill="#6f9b3c"/>
<rect x="662.8" y="152.2" width="19.8" height="1.3" fill="#6f9b3c"/>
<rect x="661.8" y="156.8" width="21.7" height="1.3" fill="#6f9b3c"/>
<rect x="660.9" y="161.4" width="23.7" height="1.3" fill="#6f9b3c"/>
<path d="M629.5,191.2 Q632,184 633.8,176 L642.8,176 L642.8,191.2Z" fill="#d8552c"/>
<path d="M717.2,191.2 Q714.5,184 712.8,176 L703.2,176 L703.2,191.2Z" fill="#d8552c"/>
<path d="M642.8,191.2 L642.8,180 Q644,176 645,172.8 L659.8,172.8 L659.8,191.2Z" fill="#d8552c"/>
<path d="M703.2,191.2 L703.2,180 Q702,176 701,172.8 L686.2,172.8 L686.2,191.2Z" fill="#d8552c"/>
<path d="M659.8,191.2 L659.8,172.8 L662.5,166.6 L683.5,166.6 L686.2,172.8 L686.2,191.2Z" fill="#d8552c"/>
<path d="M661.5,167.6 L684.5,167.6" stroke="#6f9b3c" stroke-width="1.4" fill="none"/>
<path d="M631.2,183.2 L642.8,183.2 L642.8,185.4 L630.6,185.4Z M715.4,183.2 L703.2,183.2 L703.2,185.4 L716,185.4Z M642.8,180.6 L659.8,180.6 L659.8,182.8 L642.8,182.8Z M703.2,180.6 L686.2,180.6 L686.2,182.8 L703.2,182.8Z" fill="#b9451f"/>
<path d="M629.5,191.2 L717.2,191.2 L716.2,188.6 L630.4,188.6Z" fill="#b9451f"/>
<path d="M642.8,176 L642.8,191.2 M703.2,176 L703.2,191.2 M659.8,172.8 L659.8,186 M686.2,172.8 L686.2,186" stroke="#e9b83a" stroke-width="1.3" fill="none"/>
<path d="M634,176.2 l-2.4,-4.2 M712.6,176.2 l2.4,-4.2 M642.8,176 l-1.4,-5.4 M703.2,176 l1.4,-5.4 M645.2,172.8 l-1.8,-4 M700.8,172.8 l1.8,-4 M659.8,172.8 l-1.6,-4.6 M686.2,172.8 l1.6,-4.6" stroke="#e9b83a" stroke-width="1.2" fill="none" stroke-linecap="round"/>
<path d="M672.7,160.5 Q664.7,176 651,185 L694.5,185 Q680.7,176 672.7,160.5Z" fill="#e9b83a"/>
<path d="M672.7,167 Q667.7,178 658,185.5 L687.5,185.5 Q677.7,178 672.7,167Z" fill="#f3cd62"/>
<path d="M649,186.5 L696.5,186.5 L694,183 L652,183Z" fill="#d9a02c"/>
<rect x="627" y="191" width="92" height="25" fill="#e9b83a"/>
<rect x="631.5" y="193" width="7" height="22" fill="#a693c6"/>
<rect x="643.5" y="193" width="7" height="22" fill="#a693c6"/>
<rect x="690.5" y="193" width="7" height="22" fill="#a693c6"/>
<rect x="695.5" y="193" width="7" height="22" fill="#a693c6"/>
<rect x="707.0" y="193" width="7" height="22" fill="#a693c6"/>
<path d="M633.5,215 L633.5,206 L635.3,200 L637.1,206 L637.1,215Z" fill="#d9a02c"/>
<path d="M646.0,215 L646.0,206 L647.8,200 L649.6,206 L649.6,215Z" fill="#d9a02c"/>
<path d="M697.5,215 L697.5,206 L699.3,200 L701.1,206 L701.1,215Z" fill="#d9a02c"/>
<path d="M708.0,215 L708.0,206 L709.8,200 L711.6,206 L711.6,215Z" fill="#d9a02c"/>
<rect x="656" y="188" width="33.5" height="28" fill="#eec14e"/>
<path d="M665,192 L680.5,192 L680.5,215 L665,215Z" fill="#d9a02c"/>
<path d="M666.5,192 Q669,203 672.7,207 Q676.4,203 679,192Z" fill="#c98a2c"/>
<path d="M670,215 L670,205 L672.7,199 L675.4,205 L675.4,215Z" fill="#f0c75a"/>
<rect x="658.0" y="189" width="1.8" height="27" fill="#d9a02c"/>
<rect x="661.5" y="189" width="1.8" height="27" fill="#d9a02c"/>
<rect x="683.0" y="189" width="1.8" height="27" fill="#d9a02c"/>
<rect x="686.5" y="189" width="1.8" height="27" fill="#d9a02c"/>
<rect x="625" y="215.2" width="96" height="3.8" fill="#d9a02c"/>
</g>
<g id="legend">
<circle cx="121" cy="647.6" r="94.2" fill="#fff" stroke="#3590d2" stroke-width="1.6"/>
<use href="#plane" transform="translate(85.6,601.9) scale(0.774)" fill="#000"/>
<path d="M108.4,601.9 H134" stroke="#1fa84c" stroke-width="3.5" stroke-dasharray="3.5 3.5" fill="none"/>
<circle cx="72" cy="636" r="9.6" fill="#fff" stroke="#e01f26" stroke-width="4.8"/><circle cx="72" cy="636" r="4.8" fill="#231f20"/>
<path d="M61.8,665 H108" stroke="#e01f26" stroke-width="3.1" stroke-linecap="round"/>
<circle cx="113.6" cy="664.9" r="7.5" fill="#231f20" stroke="#e01f26" stroke-width="4.5"/>
<path d="M61.8,696.4 H108" stroke="#f8a830" stroke-width="3.1" stroke-linecap="round"/>
<circle cx="113.6" cy="696.4" r="6.6" fill="#231f20" stroke="#f8a830" stroke-width="4.3"/>
</g>
<g id="labels" opacity="0.999">
<text x="103.3" y="155.2" font-size="28.5" textLength="78.5" lengthAdjust="spacingAndGlyphs" stroke="#231f20" stroke-width="0.5" stroke-linejoin="round">Σπηλιές</text>
<text x="107.8" y="177.9" font-size="28.5" textLength="77.0" lengthAdjust="spacingAndGlyphs" stroke="#231f20" stroke-width="0.5" stroke-linejoin="round">Μπατού</text>
<text x="218.3" y="164.0" font-size="32.7" textLength="134.0" lengthAdjust="spacingAndGlyphs" class="b" stroke="#231f20" stroke-width="1.2" stroke-linejoin="round">ΜΑΛΑΙΣΙΑ</text>
<text x="88.5" y="256.9" font-size="28.0" textLength="78.5" lengthAdjust="spacingAndGlyphs" class="b" stroke="#231f20" stroke-width="1.2" stroke-linejoin="round">Κουάλα</text>
<text x="60.8" y="281.0" font-size="28.0" textLength="107.0" lengthAdjust="spacingAndGlyphs" class="b" stroke="#231f20" stroke-width="1.2" stroke-linejoin="round">Λουμπούρ</text>
<text x="249.6" y="289.1" font-size="28.5" textLength="130.0" lengthAdjust="spacingAndGlyphs" stroke="#231f20" stroke-width="0.5" stroke-linejoin="round">Πουτρατζάγια</text>
<text x="298.4" y="327.2" font-size="28.5" textLength="81.5" lengthAdjust="spacingAndGlyphs" stroke="#231f20" stroke-width="0.5" stroke-linejoin="round">Μελάκα</text>
<text x="622.0" y="254.4" font-size="28.3" textLength="110.5" lengthAdjust="spacingAndGlyphs" class="b" stroke="#231f20" stroke-width="1.2" stroke-linejoin="round">Μπανγκόκ</text>
<text x="538.2" y="494.1" font-size="27.2" textLength="187.5" lengthAdjust="spacingAndGlyphs" stroke="#231f20" stroke-width="0.5" stroke-linejoin="round">Ηφαίστειο Κινταμάνι</text>
<text x="520.3" y="551.5" font-size="22.2" textLength="59.0" lengthAdjust="spacingAndGlyphs" class="b" stroke="#231f20" stroke-width="0.9" stroke-linejoin="round">ΜΠΑΛΙ</text>
<text x="420.0" y="591.0" font-size="27.2" textLength="190.5" lengthAdjust="spacingAndGlyphs" stroke="#231f20" stroke-width="0.5" stroke-linejoin="round">Δάσος των πιθήκων</text>
<text x="420.0" y="632.8" font-size="27.2" textLength="137.5" lengthAdjust="spacingAndGlyphs" stroke="#231f20" stroke-width="0.5" stroke-linejoin="round">Ναός Mengwi</text>
<text x="442.0" y="670.4" font-size="27.2" textLength="84.0" lengthAdjust="spacingAndGlyphs" stroke="#231f20" stroke-width="0.5" stroke-linejoin="round">Τάνα Λοτ</text>
<text x="669.3" y="646.2" font-size="27.2" textLength="93.0" lengthAdjust="spacingAndGlyphs" stroke="#231f20" stroke-width="0.5" stroke-linejoin="round">Ουμπούντ</text>
<text x="611.8" y="709.4" font-size="27.3" textLength="64.5" lengthAdjust="spacingAndGlyphs" class="b" stroke="#231f20" stroke-width="1.2" stroke-linejoin="round">Μπαλί</text>
<text x="141.0" y="605.5" font-size="13.3" textLength="31.2" lengthAdjust="spacingAndGlyphs" class="b" stroke="#231f20" stroke-width="0.7" stroke-linejoin="round">Πτήση</text>
<text x="90.9" y="640.2" font-size="13.3" textLength="84.2" lengthAdjust="spacingAndGlyphs" class="b" stroke="#231f20" stroke-width="0.7" stroke-linejoin="round">Διανυκτέρευση</text>
<text x="134.1" y="669.2" font-size="13.3" textLength="41.2" lengthAdjust="spacingAndGlyphs" class="b" stroke="#231f20" stroke-width="0.7" stroke-linejoin="round">Οδικώς</text>
<text x="133.2" y="700.4" font-size="13.3" textLength="47.0" lengthAdjust="spacingAndGlyphs" class="b" stroke="#231f20" stroke-width="0.7" stroke-linejoin="round">Εκδρομή</text>
</g>
<rect x="798" y="806" width="2" height="2" fill="#888"/>
</svg></body></html>
